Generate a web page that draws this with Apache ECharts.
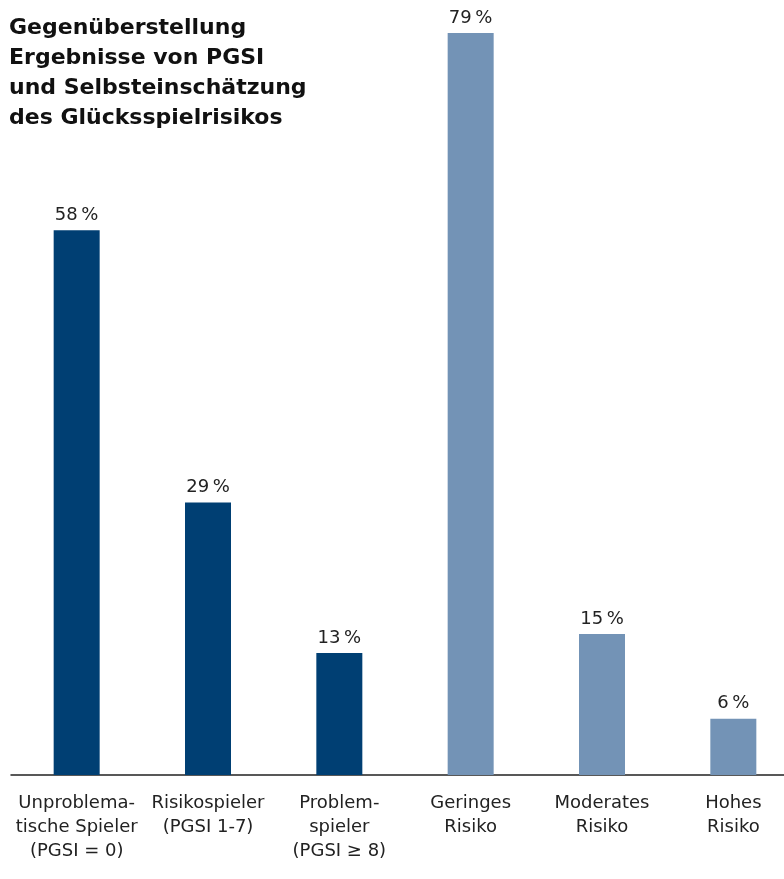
<!DOCTYPE html>
<html>
<head>
<meta charset="utf-8">
<script src="https://cdn.jsdelivr.net/npm/echarts@6/dist/echarts.min.js"></script>
<style>html,body{margin:0;padding:0;background:#fff;overflow:hidden}#c{width:799px;height:879px}</style>
</head>
<body>
<div id="c"></div>
<script>
const categories = [
  "Unproblema-\ntische Spieler\n(PGSI = 0)",
  "Risikospieler\n(PGSI 1-7)",
  "Problem-\nspieler\n(PGSI ≥ 8)",
  "Geringes\nRisiko",
  "Moderates\nRisiko",
  "Hohes\nRisiko"
];
const values = [58, 29, 13, 79, 15, 6];
const groups = ["pgsi", "pgsi", "pgsi", "self", "self", "self"];
const titleText = "Gegenüberstellung\nErgebnisse von PGSI\nund Selbsteinschätzung\ndes Glücksspielrisikos";

const colors = { pgsi: "#003f73", self: "#7393b6" };
const FONT = "DejaVu Sans, sans-serif";

const chart = echarts.init(document.getElementById('c'));
chart.setOption({
  animation: false,
  title: {
    text: titleText,
    left: 9, top: 13, padding: 0,
    textStyle: { fontFamily: FONT, fontSize: 22, fontWeight: "bold", color: "#111", lineHeight: 30 }
  },
  grid: { left: 11, top: 33, right: 0, bottom: 104, containLabel: false },
  xAxis: {
    type: "category",
    data: categories,
    axisLine: { lineStyle: { color: "#222", width: 1.5 } },
    axisTick: { show: false },
    axisLabel: {
      interval: 0, margin: 16,
      fontFamily: FONT, fontSize: 18, lineHeight: 24, color: "#222"
    }
  },
  yAxis: { type: "value", min: 0, max: 79, show: false, splitLine: { show: false } },
  series: [{
    type: "bar",
    barWidth: 46,
    data: values.map((v, i) => ({ value: v, itemStyle: { color: colors[groups[i]] } })),
    label: {
      show: true, position: "top", distance: 6,
      formatter: p => p.value + "\u2009%",
      fontFamily: FONT, fontSize: 18, color: "#222"
    }
  }]
});
</script>
</body>
</html>
